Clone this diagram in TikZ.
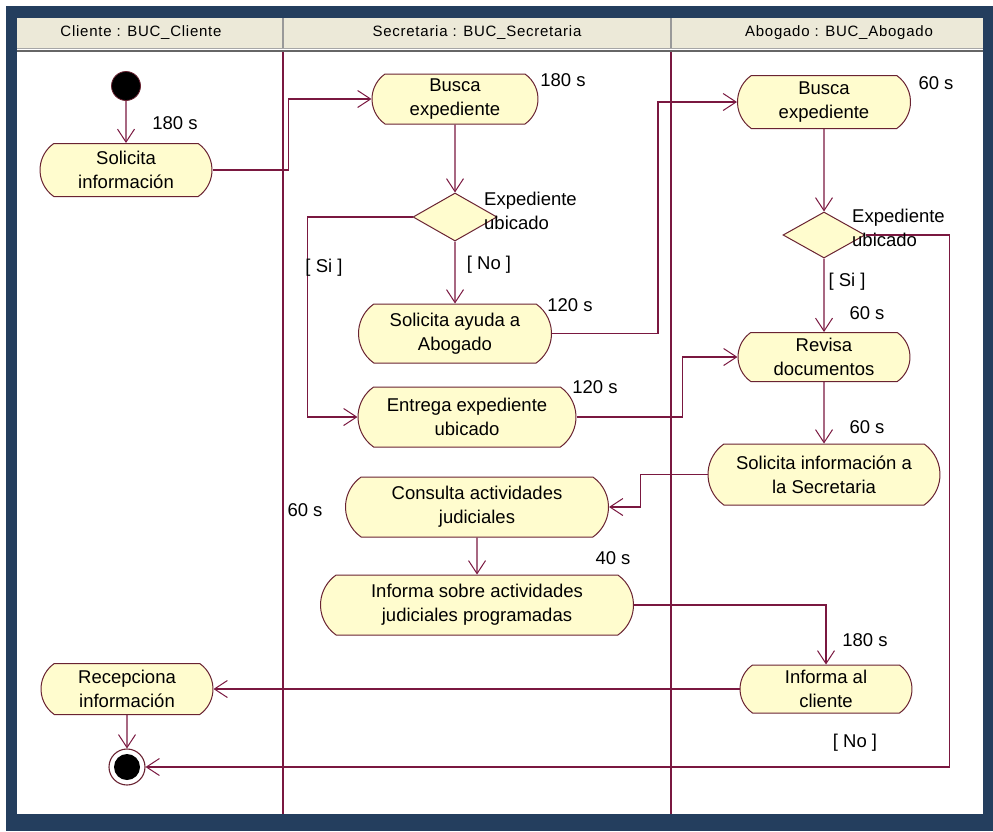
\documentclass[tikz,border=0pt]{standalone}
\usepackage{fontspec}
\setmainfont{Liberation Sans}
\usetikzlibrary{shapes.misc,shapes.geometric,arrows.meta}

\definecolor{framecol}{RGB}{36,62,94}
\definecolor{headfill}{RGB}{236,233,216}
\definecolor{edgecol}{RGB}{122,24,64}
\definecolor{bordercol}{RGB}{105,35,50}
\definecolor{nodefill}{RGB}{255,252,206}

\newcommand\actfont{\fontsize{18.5}{24}\selectfont}
\newcommand\headfont{\fontsize{15}{17}\selectfont\addfontfeatures{LetterSpace=5}}

\tikzset{
  activity/.style 2 args={rounded rectangle, rounded rectangle arc length=110,
    draw=bordercol, fill=nodefill, line width=1pt, align=center, inner sep=0pt,
    font=\actfont, minimum width=#1pt, minimum height=#2pt},
  decision/.style 2 args={diamond, draw=bordercol, fill=nodefill, line width=1pt,
    inner sep=0pt, minimum width=#1pt, minimum height=#2pt},
  flow/.style={draw=edgecol, line width=1.1pt,
    -{Straight Barb[length=13pt,width=17pt,line width=1pt]}},
  note/.style={font=\actfont, inner sep=0pt, text=black},
  lane/.style={draw=edgecol, line width=1.1pt},
  title/.style={font=\headfont, inner sep=0pt},
}

\begin{document}
\begin{tikzpicture}[x=1pt,y=-1pt]
\useasboundingbox (0,0) rectangle (993,831);

% frame and swimlane header
\fill[white] (0,0) rectangle (993,831);
\fill[framecol] (6,6) rectangle (993,831);
\fill[white] (17,18) rectangle (983,814);
\fill[headfill] (17,18) rectangle (983,48);
\draw[black!35, line width=1.2pt] (17,48.5) -- (983,48.5);
\draw[black!60, line width=1.2pt] (17,51) -- (983,51);
\draw[black!40, line width=1.2pt] (283,18) -- (283,48);
\draw[black!40, line width=1.2pt] (671,18) -- (671,48);
\draw[lane] (283,52) -- (283,814);
\draw[lane] (671,52) -- (671,814);

\node[title] (h1) at (141,33) {Cliente : BUC\_Cliente};
\node[title] (h2) at (477,33) {Secretaria : BUC\_Secretaria};
\node[title] (h3) at (839,33) {Abogado : BUC\_Abogado};

% start and end states
\node[circle, fill=black, draw=bordercol, line width=0.8pt, minimum size=29pt, inner sep=0pt] (start) at (126,86) {};
\node[circle, fill=white, draw=bordercol, line width=1.1pt, minimum size=36pt, inner sep=0pt] (final) at (127,767) {};
\fill[black] (final.center) circle (13);

% activities
\node[activity={172}{53}] (sol) at (126,170) {Solicita\\información};
\node[activity={166}{50}] (busca1) at (455,99) {Busca\\expediente};
\node[decision={84}{48}] (d1) at (455,217) {};
\node[activity={193}{59}] (ayuda) at (455,333.5) {Solicita ayuda a\\Abogado};
\node[activity={218}{60}] (entrega) at (467,417) {Entrega expediente\\ubicado};
\node[activity={173}{53}] (busca2) at (824,102) {Busca\\expediente};
\node[decision={82}{46}] (d2) at (824,235) {};
\node[activity={172}{49}] (revisa) at (824,357) {Revisa\\documentos};
\node[activity={232}{61}] (solsec) at (824,474.5) {Solicita información a\\la Secretaria};
\node[activity={263}{60}] (consulta) at (477,507) {Consulta actividades\\judiciales};
\node[activity={313}{60}] (informa) at (477,605) {Informa sobre actividades\\judiciales programadas};
\node[activity={172}{48}] (infcli) at (826,689) {Informa al\\cliente};
\node[activity={172}{51}] (recep) at (127,689) {Recepciona\\información};

% transitions
\draw[flow] (start) -- (sol);
\draw[flow] (sol.east) -- ++(76,0) |- (busca1.west);
\draw[flow] (busca1) -- (d1);
\draw[flow] (d1) -- (ayuda);
\draw[flow] (d1.west) -- ++(-105,0) |- (entrega.west);
\draw[flow] (ayuda.east) -- ++(106,0) |- (busca2.west);
\draw[flow] (entrega.east) -- ++(106,0) |- (revisa.west);
\draw[flow] (busca2) -- (d2);
\draw[flow] (d2) -- (revisa);
\draw[flow] (revisa) -- (solsec);
\draw[flow] (solsec.west) -- ++(-67,0) |- (consulta.east);
\draw[flow] (consulta) -- (informa);
\draw[flow] (informa.east) -| (infcli.north);
\draw[flow] (infcli.west) -- (recep.east);
\draw[flow] (recep) -- (final);
\draw[flow] (d2.east) -- ++(84,0) |- (final.east);

% guards, conditions and durations
\node[note, anchor=west, align=left] (c1) at (484,211) {Expediente\\ubicado};
\node[note, anchor=west, align=left] (c2) at (852,228) {Expediente\\ubicado};
\node[note] (g1) at (324,268) {[ Si ]};
\node[note] (g2) at (489,265) {[ No ]};
\node[note] (g3) at (847,282) {[ Si ]};
\node[note] (g4) at (855,743) {[ No ]};
\node[note] (t1) at (175,123) {180 s};
\node[note] (t2) at (563,80) {180 s};
\node[note] (t3) at (936,83) {60 s};
\node[note] (t4) at (570,305) {120 s};
\node[note] (t5) at (595,387) {120 s};
\node[note] (t6) at (867,313) {60 s};
\node[note] (t7) at (867,427) {60 s};
\node[note] (t8) at (305,510) {60 s};
\node[note] (t9) at (613,558) {40 s};
\node[note] (t10) at (865,640) {180 s};
\end{tikzpicture}
\end{document}
